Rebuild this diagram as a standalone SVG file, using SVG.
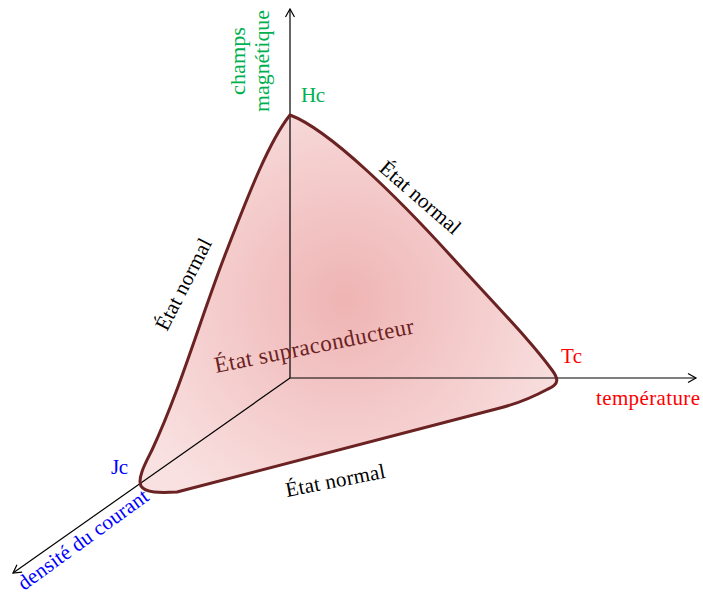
<svg xmlns="http://www.w3.org/2000/svg" width="703" height="596" viewBox="0 0 703 596">
<style>
.t{font-family:'Liberation Serif','Times New Roman',Tinos,'DejaVu Serif',serif;font-size:21px}
.ax{stroke:#000;stroke-width:1.2;fill:none;marker-end:url(#arr)}
.g{fill:#00b050}.r{fill:#ff0000}.b{fill:#0000ff}.k{fill:#000}
</style>
<defs>
<marker id="arr" markerUnits="userSpaceOnUse" markerWidth="12" markerHeight="12" viewBox="-10 -6 12 12" refX="0" refY="0" orient="auto">
<path d="M-8,-4.5 L0,0 L-8,4.5" fill="none" stroke="#000" stroke-width="1.2"/>
</marker>
<radialGradient id="fillg" gradientUnits="userSpaceOnUse" cx="345" cy="300" r="240">
<stop offset="0" stop-color="#efb4b4"/>
<stop offset="1" stop-color="#f9e1e1"/>
</radialGradient>
</defs>
<g id="region">
<path d="M290,115 C330,130 400,200 450,255 C500,310 530,340 552,370 C558,378 560,384 548,389 C535,396 520,403 500,408 L177,492 C160,493 145,493 141,486 C137,478 146,462 152,450 C180,390 200,320 225,255 C250,190 270,140 290,115 Z" fill="url(#fillg)"/>
</g>
<g id="connectors">
<line class="ax" x1="290" y1="378" x2="290" y2="9"/>
<line class="ax" x1="290" y1="378" x2="696" y2="378"/>
<line class="ax" x1="290" y1="378" x2="13" y2="573"/>
</g>
<g id="outline">
<path d="M290,115 C330,130 400,200 450,255 C500,310 530,340 552,370 C558,378 560,384 548,389 C535,396 520,403 500,408 L177,492 C160,493 145,493 141,486 C137,478 146,462 152,450 C180,390 200,320 225,255 C250,190 270,140 290,115 Z" fill="none" stroke="#6b2222" stroke-width="3" stroke-linejoin="round"/>
</g>
<g id="labels-axes" font-family="Liberation Serif, Times New Roman, serif">
<text class="t g" transform="translate(245,61) rotate(-90)" text-anchor="middle" textLength="68" lengthAdjust="spacingAndGlyphs">champs</text>
<text class="t g" transform="translate(269,61) rotate(-90)" text-anchor="middle" textLength="102" lengthAdjust="spacingAndGlyphs">magnétique</text>
<text class="t g" x="301" y="102" textLength="24">Hc</text>
<text class="t r" x="561" y="363" textLength="21">Tc</text>
<text class="t r" x="596" y="405" textLength="104">température</text>
<text class="t b" x="111" y="474" textLength="17">Jc</text>
<text class="t b" transform="translate(24,591) rotate(-36)" textLength="156">densité du courant</text>
</g>
<g id="labels-states" font-family="Liberation Serif, Times New Roman, serif">
<text class="t k" transform="translate(378,170) rotate(41)" textLength="100">État normal</text>
<text class="t k" transform="translate(167,332) rotate(-63)" textLength="100">État normal</text>
<text class="t k" transform="translate(287,497) rotate(-11)" textLength="101">État normal</text>
<text class="t" fill="#6b2222" style="font-size:23px" transform="translate(216,373) rotate(-11.3)" textLength="203">État supraconducteur</text>
</g>
</svg>
